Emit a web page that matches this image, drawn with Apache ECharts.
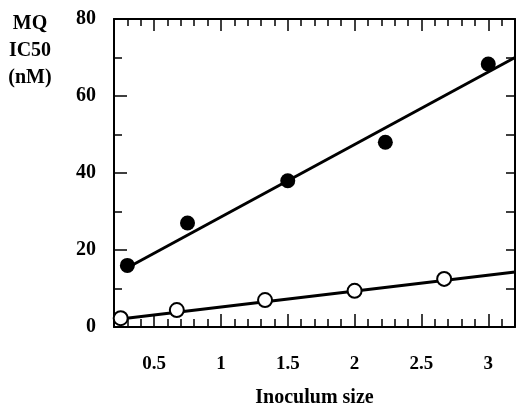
<!DOCTYPE html>
<html>
<head>
<meta charset="utf-8">
<script src="https://cdn.jsdelivr.net/npm/echarts@6/dist/echarts.min.js"></script>
<style>
html,body{margin:0;padding:0;background:#fff;}
#chart{width:516px;height:410px;}
</style>
</head>
<body>
<div id="chart"></div>
<script>
//数据：填充点 / 空心点
var filledX = [0.3, 0.75, 1.5, 2.23, 3.0];
var filledY = [16, 27, 38, 48, 68.3];
var openX = [0.25, 0.67, 1.33, 2.0, 2.67];
var openY = [2.3, 4.4, 7.0, 9.4, 12.5];
//回归线端点
var fitFilledX = [0.3, 3.2];
var fitFilledY = [15.4, 70];
var fitOpenX = [0.2, 3.2];
var fitOpenY = [1.9, 14.3];
//刻度标签
var xMajorTicks = [0.5, 1, 1.5, 2, 2.5, 3];
var yTicks = [0, 20, 40, 60, 80];

var FONT = '"Liberation Serif", "DejaVu Serif", serif';

function pairs(xs, ys){
	var out = [];
	for(var i=0;i<xs.length;i++){
		out.push([xs[i], ys[i]]);
	}
	return out;
}

var myChart = echarts.init(document.getElementById('chart'), null, {renderer:'canvas'});

var lineStyleAxis = {color:'#000', width:2};

function xAxisBase(pos){
	return {
		type:'value', position:pos, min:0.2, max:3.2, gridIndex:0,
		splitLine:{show:false}
	};
}

var option = {
	animation:false,
	backgroundColor:'#fff',
	grid:{left:114, right:1, top:19, bottom:83, containLabel:false, outerBoundsMode:'none'},
	xAxis:[
		//底部短刻度 + 标签
		Object.assign(xAxisBase('bottom'), {
			interval:0.1,
			axisLine:{show:true, lineStyle:lineStyleAxis},
			axisTick:{show:true, inside:true, length:8, lineStyle:{color:'#000', width:1.5}},
			axisLabel:{
				show:true, margin:28, color:'#000', fontFamily:FONT, fontSize:19, fontWeight:'bold',
				customValues:xMajorTicks,
				formatter:function(v){ return String(+(+v).toFixed(1)); }
			},
			name:'Inoculum size', nameLocation:'middle', nameGap:61,
			nameTextStyle:{color:'#000', fontFamily:FONT, fontSize:20, fontWeight:'bold'}
		}),
		//底部长刻度
		Object.assign(xAxisBase('bottom'), {
			axisLine:{show:false},
			axisTick:{show:true, inside:true, length:13, customValues:xMajorTicks, lineStyle:{color:'#000', width:1.5}},
			axisLabel:{show:false}
		}),
		//顶部短刻度
		Object.assign(xAxisBase('top'), {
			interval:0.1,
			axisLine:{show:true, onZero:false, lineStyle:lineStyleAxis},
			axisTick:{show:true, inside:true, length:7, lineStyle:{color:'#000', width:1.5}},
			axisLabel:{show:false}
		}),
		//顶部长刻度
		Object.assign(xAxisBase('top'), {
			axisLine:{show:false},
			axisTick:{show:true, inside:true, length:12, customValues:xMajorTicks, lineStyle:{color:'#000', width:1.5}},
			axisLabel:{show:false}
		})
	],
	yAxis:[
		{
			type:'value', position:'left', min:0, max:80, interval:20,
			axisLine:{show:true, lineStyle:lineStyleAxis},
			axisTick:{show:true, inside:true, length:13, lineStyle:{color:'#000', width:1.5}},
			minorTick:{show:true, splitNumber:2, length:8, lineStyle:{color:'#000', width:1.5}},
			axisLabel:{show:true, margin:18, color:'#000', fontFamily:FONT, fontSize:20, fontWeight:'bold',
				customValues:yTicks, padding:[3,0,0,0]},
			splitLine:{show:false}
		},
		{
			type:'value', position:'right', min:0, max:80, interval:10,
			axisLine:{show:true, lineStyle:lineStyleAxis},
			axisTick:{show:true, inside:true, length:9, lineStyle:{color:'#000', width:1.5}},
			axisLabel:{show:false},
			splitLine:{show:false}
		}
	],
	graphic:[
		{
			type:'text', x:30, y:10,
			style:{
				text:'MQ\nIC50\n(nM)', fill:'#000', font:'bold 20px ' + FONT,
				align:'center', lineHeight:27
			}
		}
	],
	series:[
		{
			type:'line', data:pairs(fitFilledX, fitFilledY), symbol:'none',
			lineStyle:{color:'#000', width:3}, z:2
		},
		{
			type:'line', data:pairs(fitOpenX, fitOpenY), symbol:'none',
			lineStyle:{color:'#000', width:3}, z:2
		},
		{
			type:'scatter', data:pairs(filledX, filledY), symbol:'circle', symbolSize:15,
			itemStyle:{color:'#000', opacity:1}, z:3
		},
		{
			type:'scatter', data:pairs(openX, openY), symbol:'circle', symbolSize:14,
			itemStyle:{color:'#fff', borderColor:'#000', borderWidth:2, opacity:1}, z:3
		}
	]
};

myChart.setOption(option);
</script>
</body>
</html>
